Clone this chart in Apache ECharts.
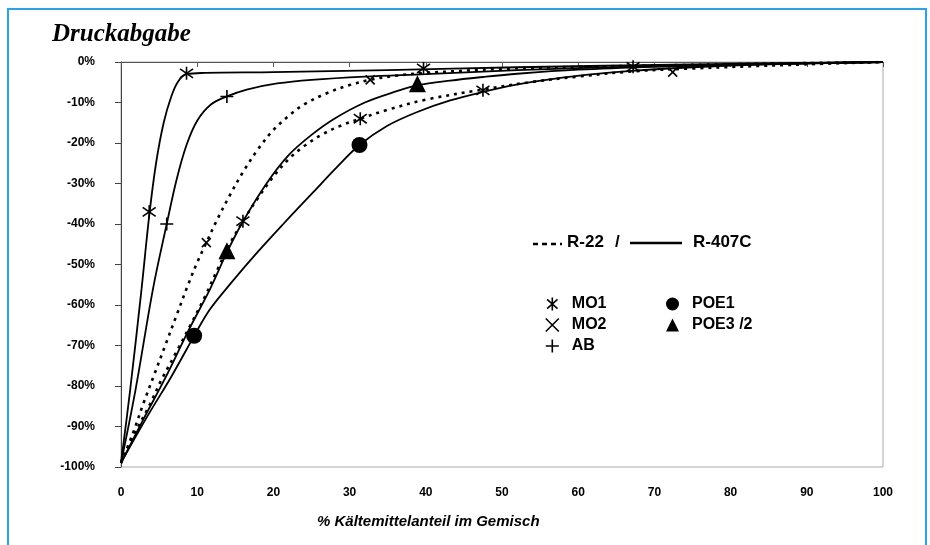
<!DOCTYPE html>
<html>
<head>
<meta charset="utf-8">
<script src="https://cdn.jsdelivr.net/npm/echarts@6/dist/echarts.min.js"></script>
<style>
	html, body { margin: 0; background: #fff; }
	#chart { width: 930px; height: 545px; }
</style>
</head>
<body>
<div id="chart"></div>
<script>
// Curves: [ % refrigerant in mixture, pressure drop in % ]
const mo1R407c = [ [ 0, -99 ], [ 1.2, -81 ], [ 2.7, -56 ], [ 3.7, -38 ], [ 4.6, -25 ], [ 5.6, -15 ], [ 6.6, -8.5 ], [ 7.5, -4.8 ], [ 8.6, -3 ], [ 11, -2.7 ], [ 20, -2.5 ], [ 35, -2 ], [ 52, -1.3 ], [ 75, -0.6 ], [ 100, 0 ] ];
const abR407c = [ [ 0, -99 ], [ 1.9, -81 ], [ 4.2, -56 ], [ 6, -40 ], [ 7.3, -29 ], [ 8.6, -20.5 ], [ 10, -14.5 ], [ 11.8, -10.5 ], [ 13.9, -8.5 ], [ 16.5, -6.8 ], [ 20.5, -5.3 ], [ 25, -4.4 ], [ 32, -3.6 ], [ 40, -3 ], [ 52, -2 ], [ 70, -1 ], [ 100, 0 ] ];
const mo2R22 = [ [ 0, -99 ], [ 1.6, -91.5 ], [ 3, -84 ], [ 4.4, -77 ], [ 5.8, -70 ], [ 7.3, -62.5 ], [ 8.7, -55.5 ], [ 10, -49.5 ], [ 11.2, -44.6 ], [ 12.6, -39 ], [ 14.2, -33.2 ], [ 16, -27.2 ], [ 18, -21.5 ], [ 20, -16.8 ], [ 22.2, -13 ], [ 24, -10.5 ], [ 27, -7.7 ], [ 30, -5.7 ], [ 32.7, -4.4 ], [ 36, -3.4 ], [ 40, -2.7 ], [ 50, -1.7 ], [ 60, -1.2 ], [ 75, -0.7 ], [ 100, 0 ] ];
const mo1R22 = [ [ 0, -99 ], [ 2, -91 ], [ 3.8, -84.5 ], [ 5.3, -78.5 ], [ 7.3, -71.5 ], [ 9.1, -65 ], [ 11, -58 ], [ 12.6, -51.5 ], [ 14.2, -45.2 ], [ 16, -39.3 ], [ 18, -33.5 ], [ 20, -28.3 ], [ 22, -24 ], [ 24, -20.8 ], [ 26.5, -17.8 ], [ 29, -15.6 ], [ 31.4, -14 ], [ 35, -11.8 ], [ 40, -9.3 ], [ 47.5, -6.8 ], [ 54, -4.9 ], [ 60, -3.6 ], [ 67.2, -2.3 ], [ 75, -1.6 ], [ 88, -0.7 ], [ 100, 0 ] ];
const poe32R407c = [ [ 0, -99 ], [ 3, -88 ], [ 5.9, -77.7 ], [ 8.8, -66.5 ], [ 11.7, -56 ], [ 13.9, -47 ], [ 16, -39.4 ], [ 19.1, -30 ], [ 22, -23 ], [ 25, -18 ], [ 28, -14 ], [ 32, -10 ], [ 35.7, -7.5 ], [ 38.9, -5.8 ], [ 43.2, -4.6 ], [ 47.5, -3.7 ], [ 52, -2.9 ], [ 60, -1.9 ], [ 70, -1.2 ], [ 85, -0.5 ], [ 100, 0 ] ];
const poe1R407c = [ [ 0, -99 ], [ 3.3, -88 ], [ 6.6, -77.7 ], [ 8.6, -71 ], [ 9.6, -67.6 ], [ 11.7, -61 ], [ 14.7, -54 ], [ 17.8, -47.2 ], [ 21.3, -40 ], [ 25.2, -32.2 ], [ 28.3, -26 ], [ 31.3, -20.5 ], [ 34.9, -15.8 ], [ 38.8, -12.4 ], [ 43.2, -9.5 ], [ 47.5, -7.4 ], [ 51.9, -5.6 ], [ 57, -4.1 ], [ 62, -3 ], [ 67, -2.2 ], [ 75, -1.3 ], [ 85, -0.6 ], [ 100, 0 ] ];

// Measured points (markers)
const mo1Points = [ [ 3.7, -37 ], [ 8.6, -2.8 ], [ 16, -39.3 ], [ 31.4, -14 ], [ 47.5, -7 ], [ 39.7, -1.6 ], [ 67.2, -1.2 ] ];
const mo2Points = [ [ 11.2, -44.6 ], [ 32.7, -4.4 ], [ 72.4, -2.5 ] ];
const abPoints = [ [ 6, -40 ], [ 13.9, -8.5 ] ];
const poe1Points = [ [ 9.6, -67.6 ], [ 31.3, -20.5 ] ];
const poe32Points = [ [ 13.9, -46.6 ], [ 38.9, -5.4 ] ];

const legendLeft = [ 'MO1', 'MO2', 'AB' ];
const legendRight = [ 'POE1', 'POE3 /2' ];

const SANS = '"Liberation Sans", Arial, sans-serif';
const ASTERISK = 'path://M10 0 L10 20 M2 3 L18 17 M2 17 L18 3';
const CROSS = 'path://M0 0 L10 10 M10 0 L0 10';
const PLUS = 'path://M5 0 L5 10 M0 5 L10 5';

const curve = ( name, data, dashed ) => ( {
	type: 'line',
	name,
	data,
	smooth: 0.35,
	symbol: 'none',
	silent: true,
	z: 2,
	lineStyle: {
		color: '#000',
		width: dashed ? 2.6 : 1.8,
		type: dashed ? [ 3, 5 ] : 'solid'
	}
} );

const markers = ( name, data, symbol, size, stroked ) => ( {
	type: 'scatter',
	name,
	data,
	symbol,
	symbolSize: size,
	z: 3,
	itemStyle: stroked ?
		{ color: 'rgba(0,0,0,0)', borderColor: '#000', borderWidth: 1.6, opacity: 1 } :
		{ color: '#000', opacity: 1 }
} );

const legendBlock = ( data, left ) => ( {
	data,
	left,
	top: 296,
	orient: 'vertical',
	selectedMode: false,
	padding: 0,
	itemWidth: 13,
	itemHeight: 13,
	itemGap: 5,
	itemStyle: { borderWidth: 'inherit', opacity: 1 },
	textStyle: { fontFamily: SANS, fontWeight: 'bold', fontSize: 16, color: '#000', padding: [ 0, 0, 0, 8 ] }
} );

const chart = echarts.init( document.getElementById( 'chart' ), null, { renderer: 'canvas' } );

chart.setOption( {
	animation: false,
	backgroundColor: '#fff',
	grid: { left: 121, right: 47, top: 62, bottom: 78, show: true, borderColor: '#aaa', borderWidth: 1 },
	xAxis: {
		type: 'value',
		min: 0,
		max: 100,
		interval: 10,
		axisLine: { lineStyle: { color: '#555' } },
		axisTick: { length: 5, lineStyle: { color: '#555' } },
		splitLine: { show: false },
		axisLabel: { margin: 20, fontFamily: SANS, fontWeight: 'bold', fontSize: 12, color: '#000' }
	},
	yAxis: {
		type: 'value',
		min: -100,
		max: 0,
		interval: 10,
		axisLine: { show: true, lineStyle: { color: '#444' } },
		axisTick: { show: true, length: 6, lineStyle: { color: '#444' } },
		splitLine: { show: false },
		axisLabel: {
			margin: 26,
			fontFamily: SANS,
			fontWeight: 'bold',
			fontSize: 12,
			color: '#000',
			formatter: ( v ) => v + '%'
		}
	},
	legend: [ legendBlock( legendLeft, 545 ), legendBlock( legendRight, 666 ) ],
	graphic: [
		{ type: 'rect', silent: true, z: -10, shape: { x: 8, y: 9, width: 918, height: 580 }, style: { fill: 'none', stroke: '#2ba3dd', lineWidth: 2 } },
		{ type: 'text', left: 52, top: 22, style: { text: 'Druckabgabe', fontFamily: '"Liberation Serif", serif', fontStyle: 'italic', fontWeight: 'bold', fontSize: 25, fill: '#000' } },
		{ type: 'text', left: 317, top: 514, style: { text: '% Kältemittelanteil im Gemisch', fontFamily: SANS, fontStyle: 'italic', fontWeight: 'bold', fontSize: 15, fill: '#000' } },
		{ type: 'line', shape: { x1: 533, y1: 244, x2: 562, y2: 244 }, style: { stroke: '#000', lineWidth: 2.5, lineDash: [ 5, 4 ] } },
		{ type: 'text', left: 567, top: 234, style: { text: 'R-22', fontFamily: SANS, fontWeight: 'bold', fontSize: 17, fill: '#000' } },
		{ type: 'text', left: 615, top: 234, style: { text: '/', fontFamily: SANS, fontWeight: 'bold', fontSize: 17, fill: '#000' } },
		{ type: 'line', shape: { x1: 630, y1: 243, x2: 682, y2: 243 }, style: { stroke: '#000', lineWidth: 2.5 } },
		{ type: 'text', left: 693, top: 234, style: { text: 'R-407C', fontFamily: SANS, fontWeight: 'bold', fontSize: 17, fill: '#000' } }
	],
	series: [
		curve( 'MO1 R-407C', mo1R407c, false ),
		curve( 'AB R-407C', abR407c, false ),
		curve( 'MO2 R-22', mo2R22, true ),
		curve( 'MO1 R-22', mo1R22, true ),
		curve( 'POE3/2 R-407C', poe32R407c, false ),
		curve( 'POE1 R-407C', poe1R407c, false ),
		markers( 'MO1', mo1Points, ASTERISK, 13, true ),
		markers( 'MO2', mo2Points, CROSS, 9, true ),
		markers( 'AB', abPoints, PLUS, 13, true ),
		markers( 'POE1', poe1Points, 'circle', 16, false ),
		markers( 'POE3 /2', poe32Points, 'triangle', 17, false )
	]
} );
</script>
</body>
</html>
